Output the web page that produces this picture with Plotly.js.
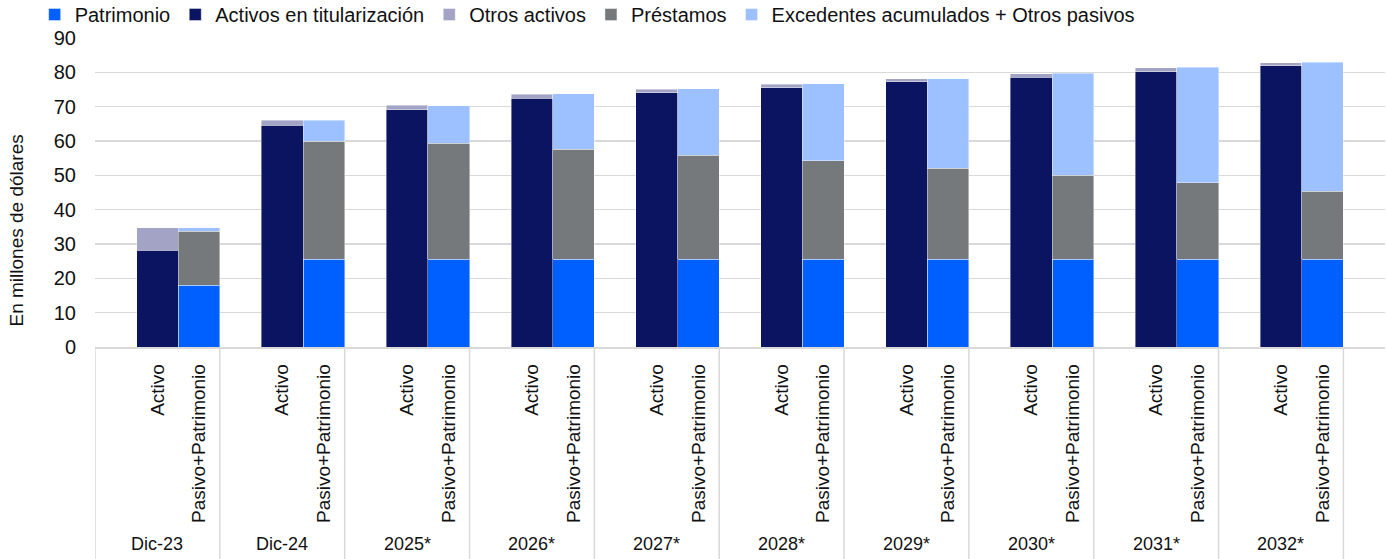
<!DOCTYPE html>
<html>
<head>
<meta charset="utf-8">
<script src="https://cdn.plot.ly/plotly-3.0.1.min.js"></script>
<style>
  html, body { margin: 0; padding: 0; background: #fff; }
  #chart { width: 1386px; height: 559px; }
</style>
</head>
<body>
<div id="chart"></div>
<script>
// ---- Data (millions of dollars) ----
const periods = ['Dic-23', 'Dic-24', '2025*', '2026*', '2027*', '2028*', '2029*', '2030*', '2031*', '2032*'];
const subLabels = ['Activo', 'Pasivo+Patrimonio'];

// Activo bar
const activosTitularizacion = [28.2, 64.6, 69.1, 72.5, 74.0, 75.5, 77.2, 78.6, 80.2, 81.9];
const otrosActivos          = [6.6, 1.5, 1.3, 1.1, 1.1, 1.0, 0.9, 1.0, 1.1, 0.9];

// Pasivo + Patrimonio bar
const patrimonio  = [18.0, 25.5, 25.5, 25.5, 25.5, 25.5, 25.5, 25.5, 25.5, 25.5];
const prestamos   = [15.7, 34.4, 33.8, 32.1, 30.3, 28.7, 26.6, 24.5, 22.3, 19.8];
const excedentes  = [1.1, 6.2, 11.0, 16.2, 19.4, 22.5, 26.1, 29.8, 33.7, 37.7];

const yTicks = [0, 10, 20, 30, 40, 50, 60, 70, 80, 90];
const yTitle = 'En millones de dólares';

// ---- Slot layout: each period = [blank, Activo, Pasivo+Patrimonio], plus one trailing blank ----
const slotsPerGroup = 3;
const xActivo = periods.map((_, i) => i * slotsPerGroup + 1);
const xPasivo = periods.map((_, i) => i * slotsPerGroup + 2);
const nSlots = periods.length * slotsPerGroup + 1;

const FONT = 'Liberation Sans, Arial, sans-serif';
const lineStyle = { color: 'rgba(255,255,255,0.55)', width: 0.75 };

const traces = [
  { name: 'Patrimonio', x: xPasivo, y: patrimonio, color: '#005FFF' },
  { name: 'Activos en titularización', x: xActivo, y: activosTitularizacion, color: '#0B1461' },
  { name: 'Otros activos', x: xActivo, y: otrosActivos, color: '#A3A3C5' },
  { name: 'Préstamos', x: xPasivo, y: prestamos, color: '#75797C' },
  { name: 'Excedentes acumulados + Otros pasivos', x: xPasivo, y: excedentes, color: '#9DC0FF' }
].map(t => ({
  type: 'bar', name: t.name, x: t.x, y: t.y, width: 1,
  marker: { color: t.color, line: lineStyle },
  hoverinfo: 'name+y'
}));

// tick labels for sub-categories
const tickvals = [], ticktext = [];
periods.forEach((_, i) => {
  tickvals.push(xActivo[i]); ticktext.push(subLabels[0]);
  tickvals.push(xPasivo[i]); ticktext.push(subLabels[1]);
});

// group labels, centred on each 3-slot group
const annotations = periods.map((p, i) => ({
  text: p, x: i * slotsPerGroup + 1, xref: 'x',
  y: -0.636, yref: 'paper', showarrow: false,
  font: { family: FONT, size: 18, color: '#111' },
  xanchor: 'center', yanchor: 'middle'
}));
// y-axis title (placed as in the reference, slightly below plot centre)
annotations.push({
  text: yTitle, textangle: -90, showarrow: false,
  xref: 'paper', x: -0.061, xanchor: 'center',
  yref: 'paper', y: 0.378, yanchor: 'middle',
  font: { family: FONT, size: 19, color: '#111' }
});

const shapes = [];
for (let g = 0; g <= periods.length; g++) {
  shapes.push({
    type: 'line', xref: 'x', yref: 'paper',
    x0: g * slotsPerGroup - 0.5, x1: g * slotsPerGroup - 0.5,
    y0: 0, y1: -0.7,
    line: { color: '#d9d9d9', width: 1.5 }
  });
}

const layout = {
  width: 1386, height: 559,
  margin: { l: 95, r: 1, t: 38, b: 212 },
  paper_bgcolor: '#fff', plot_bgcolor: '#fff',
  barmode: 'stack', bargap: 0,
  font: { family: FONT, color: '#111' },
  showlegend: true,
  legend: {
    orientation: 'h', xref: 'container', yref: 'container',
    x: 0.025, y: 0.974, xanchor: 'left', yanchor: 'middle',
    bgcolor: 'rgba(0,0,0,0)',
    font: { family: FONT, size: 20, color: '#111' },
    traceorder: 'normal', itemclick: false
  },
  xaxis: {
    range: [-0.5, nSlots - 0.5],
    tickmode: 'array', tickvals: tickvals, ticktext: ticktext,
    tickangle: -90, ticks: '', ticklabelstandoff: 8,
    tickfont: { family: FONT, size: 19, color: '#111' },
    showgrid: false, zeroline: false,
    showline: true, linecolor: '#d9d9d9', linewidth: 1.5,
    automargin: false, fixedrange: true
  },
  yaxis: {
    range: [0, 90], tickmode: 'array', tickvals: yTicks,
    ticks: '', ticklabelstandoff: 18,
    tickfont: { family: FONT, size: 20, color: '#111' },
    showgrid: true, gridcolor: '#d9d9d9', gridwidth: 1.5,
    zeroline: false, showline: false,
    automargin: false, fixedrange: true
  },
  annotations: annotations,
  shapes: shapes
};

Plotly.newPlot('chart', traces, layout, { displayModeBar: false, staticPlot: true });
</script>
</body>
</html>
